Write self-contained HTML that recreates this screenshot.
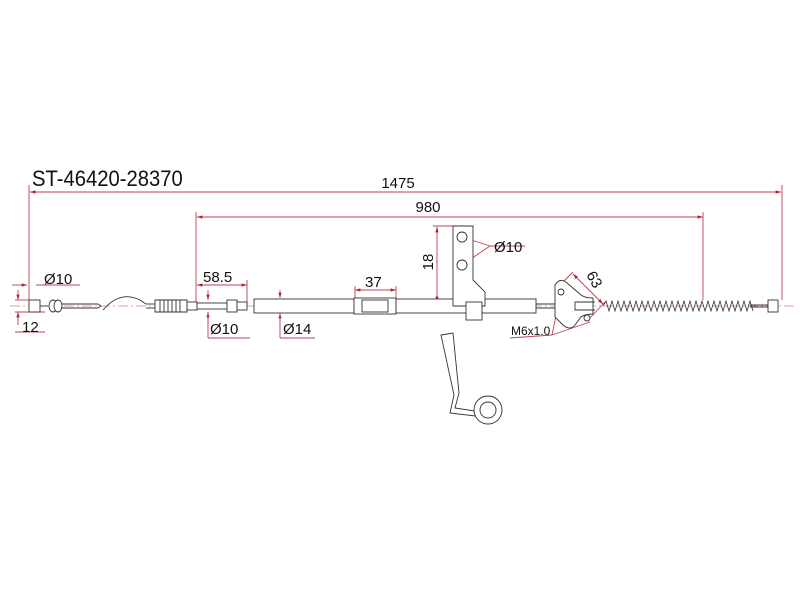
<!DOCTYPE html>
<html><head><meta charset="utf-8"><style>
html,body{margin:0;padding:0;background:#fff;}
svg{display:block}
text{font-family:"Liberation Sans",sans-serif;fill:#111}
</style></head><body>
<svg width="800" height="600" viewBox="0 0 800 600" xmlns="http://www.w3.org/2000/svg">
<defs>
<marker id="a" viewBox="0 0 10 10" refX="10" refY="5" markerWidth="6" markerHeight="6" orient="auto-start-reverse"><path d="M0,2 L10,5 L0,8z" fill="#b02030"/></marker>
</defs>
<text x="32" y="186" font-size="22" transform="scale(0.92,1) translate(2.8,0)">ST-46420-28370</text>
<text x="398" y="188" font-size="15" text-anchor="middle">1475</text>
<text x="428" y="212" font-size="15" text-anchor="middle">980</text>
<g stroke="#c04050" stroke-width="0.9" fill="none">
<line x1="30" y1="192" x2="781" y2="192" marker-start="url(#a)" marker-end="url(#a)"/>
<line x1="29" y1="185" x2="29" y2="300"/>
<line x1="782" y1="185" x2="782" y2="300"/>
<line x1="197" y1="217" x2="703" y2="217" marker-start="url(#a)" marker-end="url(#a)"/>
<line x1="196" y1="212" x2="196" y2="306"/>
<line x1="703" y1="212" x2="703" y2="300"/>
<!-- left 12/10 -->
<line x1="12" y1="285" x2="27" y2="285" marker-end="url(#a)"/>
<line x1="36" y1="285" x2="80" y2="285"/>
<line x1="18" y1="290" x2="18" y2="300" marker-end="url(#a)"/>
<line x1="18" y1="325" x2="18" y2="312" marker-end="url(#a)"/>
<line x1="15" y1="300" x2="30" y2="300"/><line x1="15" y1="312" x2="45" y2="312"/>
<line x1="15" y1="332" x2="45" y2="332"/>
<!-- 58.5 -->
<line x1="197" y1="285" x2="247" y2="285" marker-start="url(#a)" marker-end="url(#a)"/>
<line x1="247" y1="280" x2="247" y2="305"/>
<line x1="208" y1="290" x2="208" y2="300" marker-end="url(#a)"/>
<line x1="208" y1="325" x2="208" y2="312" marker-end="url(#a)"/>
<line x1="208" y1="312" x2="208" y2="338"/><line x1="208" y1="338" x2="250" y2="338"/>
<line x1="280" y1="290" x2="280" y2="298" marker-end="url(#a)"/>
<line x1="280" y1="325" x2="280" y2="313" marker-end="url(#a)"/>
<line x1="280" y1="313" x2="280" y2="338"/><line x1="280" y1="338" x2="315" y2="338"/>
<!-- 37 -->
<line x1="355" y1="290" x2="396" y2="290" marker-start="url(#a)" marker-end="url(#a)"/>
<line x1="355" y1="286" x2="355" y2="300"/><line x1="396" y1="286" x2="396" y2="300"/>
<!-- 18 -->
<line x1="437" y1="227" x2="437" y2="302" marker-start="url(#a)" marker-end="url(#a)"/>
<line x1="433" y1="226" x2="455" y2="226"/>
<line x1="462" y1="237" x2="490" y2="246"/><line x1="462" y1="265" x2="490" y2="246"/>
<line x1="490" y1="246" x2="525" y2="246"/>
<!-- 63 -->
<line x1="573" y1="274" x2="603" y2="304" marker-start="url(#a)" marker-end="url(#a)"/>
<line x1="556" y1="289" x2="573" y2="272"/><line x1="590" y1="318" x2="605" y2="302"/>
<line x1="552" y1="335" x2="560" y2="296"/><line x1="552" y1="335" x2="590" y2="322"/>
<line x1="510" y1="338" x2="552" y2="335"/>
<!-- centre line -->
<line x1="10" y1="306" x2="795" y2="306" stroke-dasharray="10,3,2,3" stroke-width="0.6"/>
</g>
<g font-size="15">
<text x="44" y="284">Ø10</text>
<text x="22" y="332">12</text>
<text x="203" y="282">58.5</text>
<text x="210" y="334">Ø10</text>
<text x="283" y="334">Ø14</text>
<text x="365" y="287">37</text>
<text x="494" y="252">Ø10</text>
<text x="511" y="335" font-size="12">M6x1.0</text>
<text font-size="15" transform="translate(433,262) rotate(-90)" text-anchor="middle">18</text>
<text font-size="15" transform="translate(590,282) rotate(60)" text-anchor="middle">63</text>
</g>
<g stroke="#333" stroke-width="0.9" fill="#fff">
<rect x="29" y="300" width="11" height="12"/>
<line x1="40" y1="306" x2="48" y2="306"/>
<ellipse cx="53" cy="306" rx="4" ry="6"/><ellipse cx="58" cy="306" rx="4" ry="6"/>
<line x1="62" y1="304" x2="98" y2="304"/><line x1="62" y1="308" x2="98" y2="308"/>
<path d="M98,304 l3,2 -3,2" fill="none"/>
<path d="M103,310 Q120,290 140,300 L146,304" fill="none"/>
<line x1="146" y1="304" x2="155" y2="304"/><line x1="146" y1="308" x2="155" y2="308"/>
<path d="M155,300 h32 v12 h-32z"/>
<path d="M160,300 v12 M164,300 v12 M168,300 v12 M172,300 v12 M176,300 v12 M180,300 v12" fill="none"/>
<rect x="187" y="302" width="10" height="8"/>
<rect x="197" y="303" width="30" height="6"/>
<rect x="227" y="300" width="10" height="12"/>
<rect x="237" y="302" width="10" height="8"/>
<rect x="254" y="299" width="100" height="14"/>
<rect x="354" y="298" width="42" height="16"/>
<rect x="362" y="300" width="26" height="12"/>
<rect x="396" y="299" width="140" height="14"/>
<path d="M453,226 h20 v54 l12,12 v14 h-32z"/>
<circle cx="462" cy="237" r="5" fill="none"/><circle cx="462" cy="265" r="5" fill="none"/>
<rect x="466" y="302" width="16" height="18"/>
<line x1="536" y1="304" x2="555" y2="304"/><line x1="536" y1="308" x2="555" y2="308"/>
<path d="M555,285 q5,-8 12,-2 l14,12 q4,3 12,3 v16 q-8,0 -12,3 l-6,8 q-5,6 -12,0 l-8,-8 z"/>
<circle cx="561" cy="292" r="3" fill="none"/><circle cx="587" cy="318" r="3" fill="none"/>
<path d="M595,302 h-20 v8 h20" fill="none"/>
<path d="M603,306 l3,-5 3,10 3,-10 3,10 3,-10 3,10 3,-10 3,10 3,-10 3,10 3,-10 3,10 3,-10 3,10 3,-10 3,10 3,-10 3,10 3,-10 3,10 3,-10 3,10 3,-10 3,10 3,-10 3,10 3,-10 3,10 3,-10 3,10 3,-10 3,10 3,-10 3,10 3,-10 3,10 3,-10 3,10 3,-10 3,10 3,-10 3,10 3,-10 3,10 3,-10 3,10 3,-10 3,10 3,-10 3,10" fill="none" stroke-width="0.8"/>
<line x1="750" y1="305" x2="768" y2="305"/><line x1="750" y1="307" x2="768" y2="307"/>
<rect x="768" y="300" width="10" height="12"/>
<path d="M441,335 l12,-2 l6,60 l-4,15 l20,3 l0,5 l-25,-3 l4,-18z"/>
<circle cx="488" cy="410" r="14"/><circle cx="488" cy="410" r="8"/>
</g>
</svg>
</body></html>
